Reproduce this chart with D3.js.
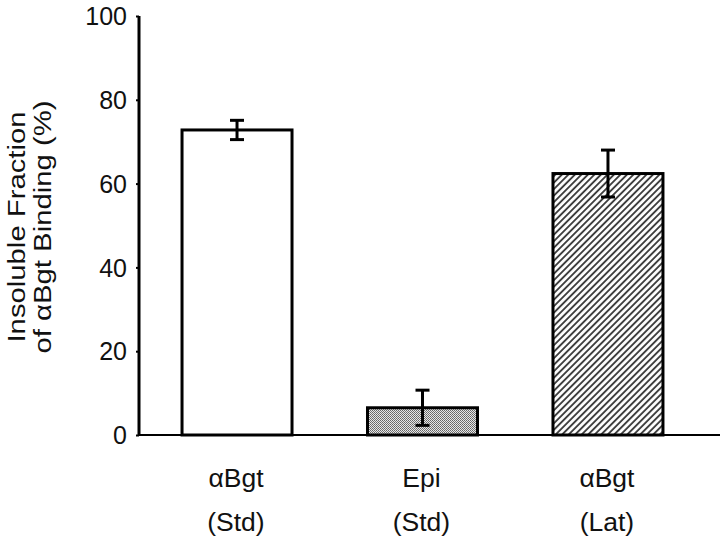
<!DOCTYPE html>
<html>
<head>
<meta charset="utf-8">
<script src="https://cdn.jsdelivr.net/npm/d3@7"></script>
<style>
  body { margin: 0; background: #fff; }
  svg text { font-family: "Liberation Sans", Arial, sans-serif; fill: #111; }
</style>
</head>
<body>
<div id="chart"></div>
<script>
const width = 720;
const height = 537;

// data
const groups = ["αBgt|(Std)", "Epi|(Std)", "αBgt|(Lat)"];
const values = [72.8, 6.5, 62.4];
const errors = [2.3, 4.2, 5.6];
const fills = ["white", "url(#stipple)", "url(#hatch)"];
const yTicks = [0, 20, 40, 60, 80, 100];

// the title font in the figure runs wider than Liberation Sans
const titleStretch = 1.22;
const labelStretch = 1.06;

const svg = d3.select("#chart")
    .append("svg")
    .attr("width", width)
    .attr("height", height);

// fill patterns
const defs = svg.append("defs");
const stip = defs.append("pattern")
    .attr("id", "stipple")
    .attr("width", 2).attr("height", 2)
    .attr("patternUnits", "userSpaceOnUse");
stip.append("rect").attr("width", 2).attr("height", 2).attr("fill", "#e8e8e8");
stip.append("rect").attr("width", 1).attr("height", 1).attr("fill", "#666");
stip.append("rect").attr("x", 1).attr("y", 1).attr("width", 1).attr("height", 1).attr("fill", "#777");

const hatch = defs.append("pattern")
    .attr("id", "hatch")
    .attr("width", 4.6).attr("height", 4.6)
    .attr("patternUnits", "userSpaceOnUse")
    .attr("patternTransform", "rotate(45)");
hatch.append("rect").attr("width", 4.6).attr("height", 4.6).attr("fill", "#fff");
hatch.append("line")
    .attr("x1", 1).attr("y1", 0).attr("x2", 1).attr("y2", 4.6)
    .attr("stroke", "#333").attr("stroke-width", 1.8);

// scales
const x = d3.scaleBand()
    .domain(groups)
    .range([139, 706])
    .paddingInner(0.407)
    .paddingOuter(0.232);

const y = d3.scaleLinear()
    .domain([0, 100])
    .range([435, 16]);

// y axis
const yAxis = svg.append("g")
    .attr("transform", "translate(139,0)")
    .call(d3.axisLeft(y).tickValues(yTicks).tickSize(3).tickPadding(9));
yAxis.select(".domain").attr("stroke", "#000").attr("stroke-width", 3)
    .attr("d", `M0,${y(100)}V${y(0)}`);
yAxis.selectAll(".tick line").attr("stroke", "#000").attr("stroke-width", 2);
yAxis.selectAll(".tick text")
    .attr("dy", "0.35em")
    .style("font-size", "25px");

// x axis line
svg.append("line")
    .attr("x1", 138).attr("x2", 720)
    .attr("y1", y(0)).attr("y2", y(0))
    .attr("stroke", "#000").attr("stroke-width", 2);

// bars
svg.append("g")
    .selectAll("rect")
    .data(groups)
    .join("rect")
    .attr("x", d => x(d))
    .attr("y", (d, i) => y(values[i]))
    .attr("width", x.bandwidth())
    .attr("height", (d, i) => y(0) - y(values[i]))
    .attr("fill", (d, i) => fills[i])
    .attr("stroke", "#000")
    .attr("stroke-width", 3);

// error bars
const err = svg.append("g")
    .selectAll("g")
    .data(groups)
    .join("g")
    .attr("stroke", "#000")
    .attr("stroke-width", 3);
err.append("line")
    .attr("x1", d => x(d) + x.bandwidth() / 2)
    .attr("x2", d => x(d) + x.bandwidth() / 2)
    .attr("y1", (d, i) => y(values[i] + errors[i]))
    .attr("y2", (d, i) => y(values[i] - errors[i]));
[1, -1].forEach(s => {
    err.append("line")
        .attr("x1", d => x(d) + x.bandwidth() / 2 - 7)
        .attr("x2", d => x(d) + x.bandwidth() / 2 + 7)
        .attr("y1", (d, i) => y(values[i] + s * errors[i]))
        .attr("y2", (d, i) => y(values[i] + s * errors[i]));
});

// category labels, two lines each
const lab = svg.append("g")
    .selectAll("text")
    .data(groups)
    .join("text")
    .attr("text-anchor", "middle")
    .attr("transform", d => `translate(${x(d) + x.bandwidth() / 2},0) scale(${labelStretch},1)`)
    .style("font-size", "25px");
lab.append("tspan")
    .attr("x", -1)
    .attr("y", 487)
    .text(d => d.split("|")[0]);
lab.append("tspan")
    .attr("x", -1)
    .attr("y", 531)
    .text(d => d.split("|")[1]);

// y axis title
const yt = svg.append("text")
    .attr("transform", `translate(0,227) rotate(-90) scale(${titleStretch},1)`)
    .attr("text-anchor", "middle")
    .style("font-size", "24px");
yt.append("tspan").attr("x", 0).attr("y", 25).text("Insoluble Fraction");
yt.append("tspan").attr("x", 0).attr("y", 51).text("of αBgt Binding (%)");
</script>
</body>
</html>
